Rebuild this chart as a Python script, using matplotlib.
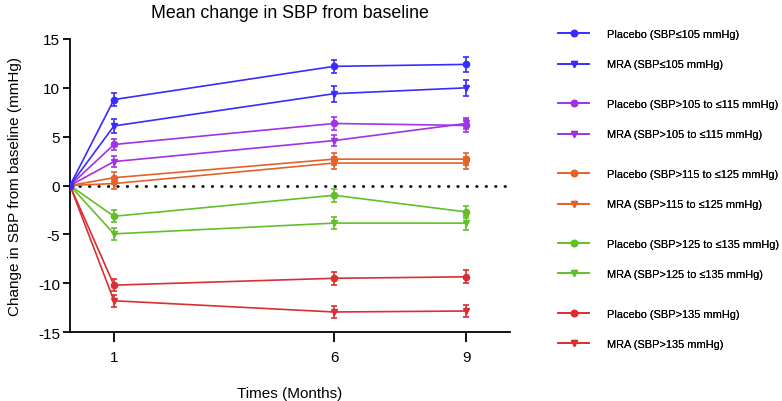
import matplotlib.pyplot as plt
from matplotlib.lines import Line2D

plt.rcParams["font.family"] = ["Liberation Sans", "DejaVu Sans"]
plt.rcParams["axes.unicode_minus"] = False

months = [0, 1, 6, 9]
tick_months = [1, 6, 9]

labels = [
    "Placebo (SBP\u2264105 mmHg)",
    "MRA (SBP\u2264105 mmHg)",
    "Placebo (SBP>105 to \u2264115 mmHg)",
    "MRA (SBP>105 to \u2264115 mmHg)",
    "Placebo (SBP>115 to \u2264125 mmHg)",
    "MRA (SBP>115 to \u2264125 mmHg)",
    "Placebo (SBP>125 to \u2264135 mmHg)",
    "MRA (SBP>125 to \u2264135 mmHg)",
    "Placebo (SBP>135 mmHg)",
    "MRA (SBP>135 mmHg)",
]

means = [
    [0, 8.8, 12.2, 12.4],
    [0, 6.1, 9.4, 10.0],
    [0, 4.2, 6.35, 6.15],
    [0, 2.45, 4.6, 6.35],
    [0, 0.8, 2.7, 2.7],
    [0, 0.2, 2.3, 2.3],
    [0, -3.15, -1.0, -2.7],
    [0, -4.95, -3.85, -3.85],
    [0, -10.2, -9.5, -9.35],
    [0, -11.8, -12.95, -12.85],
]

errors = [
    [0, 0.7, 0.7, 0.8],
    [0, 0.7, 0.8, 0.8],
    [0, 0.6, 0.7, 0.7],
    [0, 0.6, 0.6, 0.6],
    [0, 0.6, 0.6, 0.6],
    [0, 0.55, 0.6, 0.6],
    [0, 0.6, 0.65, 0.65],
    [0, 0.6, 0.65, 0.7],
    [0, 0.6, 0.65, 0.65],
    [0, 0.6, 0.65, 0.65],
]

group_colors = ["#3a2bff", "#a132e6", "#e2622a", "#62bf29", "#d92e32"]


def main() -> None:
    fig = plt.figure(figsize=(7.82, 4.02), dpi=100)
    ax = fig.add_axes([0.0895, 0.1716, 0.5627, 0.7289])

    # dotted zero reference line
    ax.plot([0, 10], [0, 0], color="black", lw=2.0,
            linestyle=(0, (0.2, 3.2)), dash_capstyle="round", zorder=1)

    # draw in reverse so the blue series ends up on top at baseline
    for i in reversed(range(len(labels))):
        color = group_colors[i // 2]
        marker = "o" if i % 2 == 0 else "v"
        ax.errorbar(months, means[i], yerr=errors[i], color=color, lw=1.2,
                    marker=marker, markersize=4.5, capsize=2.5,
                    elinewidth=1.2, capthick=1.2, zorder=3 + (10 - i))

    handles = []
    for i in range(len(labels)):
        color = group_colors[i // 2]
        marker = "o" if i % 2 == 0 else "v"
        handles.append(Line2D([], [], color=color, lw=1.2, marker=marker,
                              markersize=4.5))

    ax.set_xlim(0, 10)
    ax.set_ylim(-15, 15)
    ax.set_xticks(tick_months)
    ax.set_yticks([-15, -10, -5, 0, 5, 10, 15])
    ax.tick_params(axis="x", length=7, width=1.3, labelsize=11, pad=6)
    ax.tick_params(axis="y", length=5, width=1.3, labelsize=11, pad=2)
    ax.spines["top"].set_visible(False)
    ax.spines["right"].set_visible(False)
    ax.spines["left"].set_linewidth(1.3)
    ax.spines["bottom"].set_linewidth(1.3)

    ax.set_title("Mean change in SBP from baseline", fontsize=12.8, pad=16)
    ax.set_ylabel("Change in SBP from baseline (mmHg)", fontsize=11, labelpad=12)
    ax.set_xlabel("Times (Months)", fontsize=11, labelpad=16)

    # five legend blocks, one per SBP group
    tops = [0.925, 0.751, 0.577, 0.403, 0.229]
    for g in range(5):
        leg = fig.legend(handles[2 * g:2 * g + 2], labels[2 * g:2 * g + 2],
                         loc="upper left", bbox_to_anchor=(0.714, tops[g]),
                         frameon=False, fontsize=7.9, handlelength=2.8,
                         handletextpad=1.6, labelspacing=1.85,
                         borderaxespad=0, borderpad=0)
        fig.add_artist(leg)

    fig.savefig("out.png", dpi=100)


if __name__ == "__main__":
    main()
